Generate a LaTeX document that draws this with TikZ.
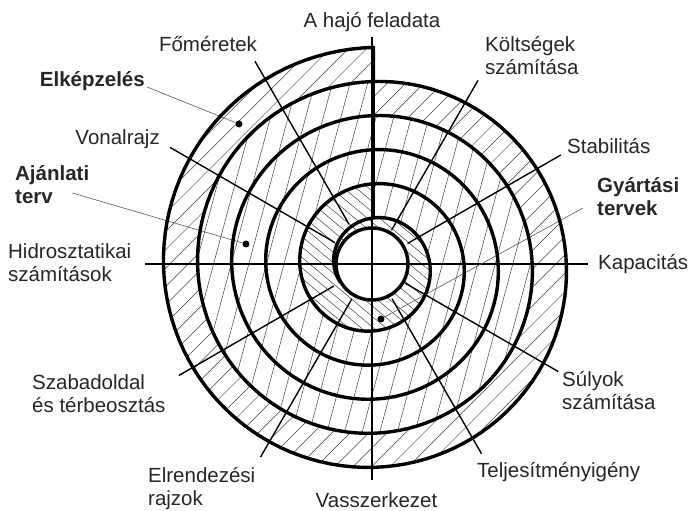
\documentclass[tikz,border=0pt]{standalone}
\usepackage{fontspec}
\setmainfont{Liberation Sans}
\usetikzlibrary{calc}

\begin{document}
\begin{tikzpicture}[
  x=1pt,y=1pt,
  font=\fontsize{20.5}{23}\selectfont,
  declare function={sr(\x)=48+(\x/360)*34.1;
                    sx(\x)=1.5+sin(\x)*sr(\x);
                    sy(\x)=-1.9+cos(\x)*sr(\x);},
  lbl/.style={inner sep=2pt,align=left,text=black!85},
  hdr/.style={lbl,font=\fontsize{20.5}{23}\selectfont\bfseries},
  ring/.style={line width=3.4pt,line join=round},
  sep/.style={line width=2.6pt},
  axis/.style={line width=1.1pt},
  spoke/.style={line width=1.4pt},
  hatch/.style={line width=0.5pt,black!75},
  lead/.style={line width=0.6pt,black!65},
  dot/.style={circle,fill,inner sep=0pt,minimum size=7pt},
]
\useasboundingbox (-372,-247) rectangle (319,264);
\coordinate (o) at (0,0);

% ===== hatching of the three phases =====
% inner turn (Gyartasi tervek), core left blank
\begin{scope}[even odd rule]
  \clip plot[domain=0:360,samples=121,variable=\t] ({sx(\t)},{sy(\t)}) -- cycle
    (o) circle[radius=36];
  \foreach \k in {-14,...,14} \draw[hatch,rotate=-40] (-260,\k*8) -- (260,\k*8);
\end{scope}
% three middle turns (Ajanlati terv)
\begin{scope}[even odd rule]
  \clip plot[domain=1080:1440,samples=121,variable=\t] ({sx(\t)},{sy(\t)}) -- cycle
    plot[domain=0:360,samples=121,variable=\t] ({sx(\t)},{sy(\t)}) -- cycle;
  \foreach \k in {-16,...,16} \draw[hatch,rotate=75] (-270,\k*17) -- (270,\k*17);
\end{scope}
% outer turn (Elkepzeles)
\begin{scope}[even odd rule]
  \clip plot[domain=1440:1800,samples=121,variable=\t] ({sx(\t)},{sy(\t)}) -- cycle
    plot[domain=1080:1440,samples=121,variable=\t] ({sx(\t)},{sy(\t)}) -- cycle;
  \foreach \k in {-20,...,20} \draw[hatch,rotate=45] (-270,\k*13) -- (270,\k*13);
\end{scope}

% ===== labels round the spiral =====
\node[lbl,anchor=base] (feladat) at (0,236) {A hajó feladata};
\node[lbl,anchor=base] (fomer) at (-164,212) {Főméretek};
\node[lbl,anchor=west] (kolt) at (111,208) {Költségek\\számítása};
\node[hdr,anchor=base east] (elk) at (-225,177) {Elképzelés};
\node[lbl,anchor=base east] (vonal) at (-210,119) {Vonalrajz};
\node[hdr,anchor=west] (ajan) at (-359,79) {Ajánlati\\terv};
\node[lbl,anchor=west] (hidro) at (-366,1.5) {Hidrosztatikai\\számítások};
\node[lbl,anchor=base west] (stab) at (193,110) {Stabilitás};
\node[hdr,anchor=west] (gyar) at (223,67.5) {Gyártási\\tervek};
\node[lbl,anchor=base west] (kapa) at (224,-6) {Kapacitás};
\node[lbl,anchor=west] (szab) at (-342,-129.5) {Szabadoldal\\és térbeosztás};
\node[lbl,anchor=west] (sulyok) at (188,-127) {Súlyok\\számítása};
\node[lbl,anchor=west] (elr) at (-226,-224.5) {Elrendezési\\rajzok};
\node[lbl,anchor=base west] (telj) at (103,-213) {Teljesítményigény};
\node[lbl,anchor=base] (vas) at (4.5,-243) {Vasszerkezet};

% ===== axes and radial spokes =====
\draw[axis] ($(feladat.south)+(0,-3)$) -- ($(feladat.south |- vas.north)+(0,10)$);
\draw[axis] ($(hidro.east |- o)+(12,0)$) -- ($(kapa.west |- o)+(-8,0)$);
\foreach \a/\ri/\ro in {60/39/212, 30/41/218, -30/38/215, -60/40/219,
                        -120/40/223, -150/44/223, 150/43/233, 120/46/234}
  \draw[spoke] (\a:\ri) -- (\a:\ro);

% ===== phase markers =====
\node[dot] (d1) at (-133,140) {};
\node[dot] (d2) at (-126,20) {};
\node[dot] (d3) at (9,-55) {};
\draw[lead] (elk.base east) -- (d1);
\draw[lead] ($(ajan.east)+(-19,-8)$) -- (d2);
\draw[lead] ($(gyar.west)+(-12,-11.5)$) -- (d3);

% ===== spiral, core and phase seam =====
\draw[sep] ({sx(0)},{sy(0)}) -- ({sx(1440)},{sy(1440)});
\draw[ring] plot[domain=-117:1800,samples=640,variable=\t] ({sx(\t)},{sy(\t)})
  -- ({sx(1440)},{sy(1440)});
\draw[ring] (o) circle[radius=36];
\end{tikzpicture}
\end{document}
